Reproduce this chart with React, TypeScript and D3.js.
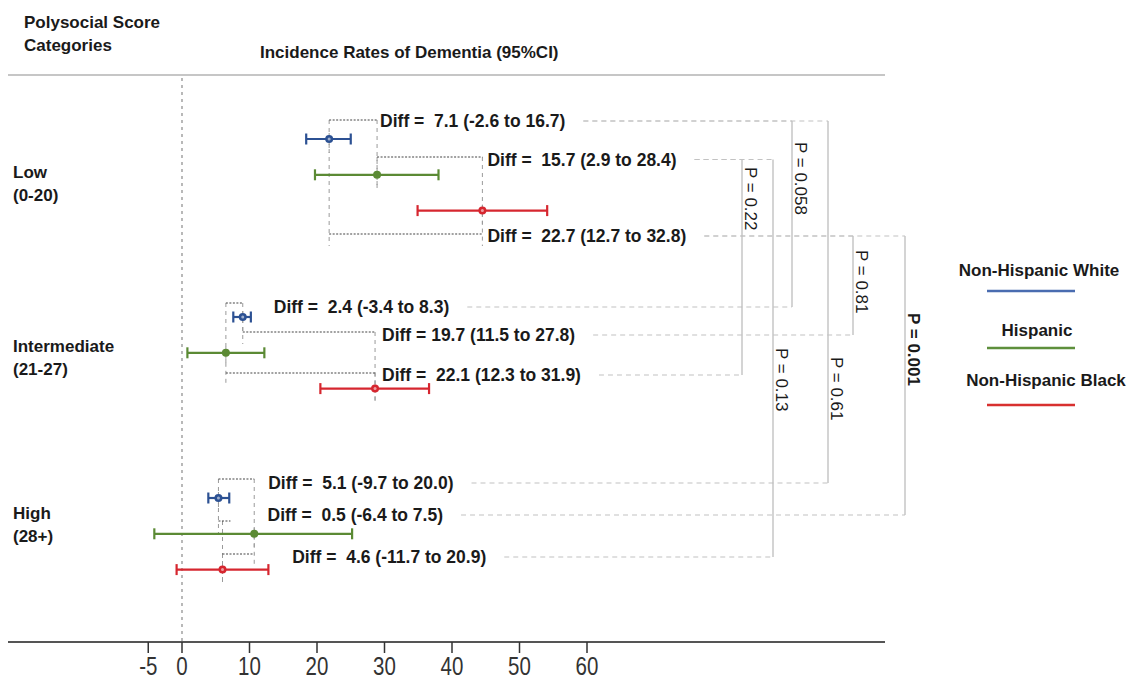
import React, { useEffect, useRef } from "react";
import * as d3 from "d3";

// ---------- data ----------
const groups = ["Low", "Intermediate", "High"];
const groupRanges = ["(0-20)", "(21-27)", "(28+)"];
const races = ["Non-Hispanic White", "Hispanic", "Non-Hispanic Black"];
const estimate = [
  [21.8, 28.9, 44.5],
  [9.0, 6.5, 28.6],
  [5.4, 10.7, 6.0],
];
const ciLower = [
  [18.4, 19.7, 34.9],
  [7.6, 0.8, 20.5],
  [3.9, -4.1, -0.8],
];
const ciUpper = [
  [25.0, 38.0, 54.1],
  [10.2, 12.2, 36.6],
  [7.0, 25.2, 12.8],
];
// differences (group, race A, race B, label)
const diffGroup = [0, 0, 0, 1, 1, 1, 2, 2, 2];
const diffFrom = [0, 1, 0, 0, 0, 1, 0, 0, 2];
const diffTo = [1, 2, 2, 1, 2, 2, 1, 2, 1];
const diffText = [
  "Diff =  7.1 (-2.6 to 16.7)",
  "Diff =  15.7 (2.9 to 28.4)",
  "Diff =  22.7 (12.7 to 32.8)",
  "Diff =  2.4 (-3.4 to 8.3)",
  "Diff = 19.7 (11.5 to 27.8)",
  "Diff =  22.1 (12.3 to 31.9)",
  "Diff =  5.1 (-9.7 to 20.0)",
  "Diff =  0.5 (-6.4 to 7.5)",
  "Diff =  4.6 (-11.7 to 20.9)",
];
// p-value comparisons between differences
const pFrom = [0, 0, 1, 1, 2, 2];
const pTo = [3, 6, 5, 8, 4, 7];
const pText = ["P = 0.058", "P = 0.61", "P = 0.22", "P = 0.13", "P = 0.81", "P = 0.001"];
const pBold = [false, false, false, false, false, true];
const xTicks = [-5, 0, 10, 20, 30, 40, 50, 60];

// ---------- layout / style ----------
const W = 1131;
const H = 681;
const FONT = "'Liberation Sans', Arial, Helvetica, sans-serif";
const raceColors = ["#2c5193", "#5b8a34", "#d6262f"];
const legendColors = ["#4a6cb0", "#5e8f3c", "#d8302f"];
const groupTopY = [139, 317, 498];
const rowStep = 35.8;
const groupLabelY = [178, 352, 519];
const bracketY = [120, 157, 234, 303, 332, 373, 479, 521, 554];
const diffLabelY = [121, 159.5, 236, 307, 335, 375, 483, 515, 557];
const diffLabelDx = [3, 5, 5, 31, 7, 7, 14, 45, 38];
const pBracketX = [792, 828, 742, 773, 853, 905];
const pLabelY = [142, 357, 167, 348, 250, 313];
const legendTextX = [1039, 1037, 1046];
const legendTextY = [276, 336, 386];
const legendLineY = [291, 348, 405];

export default function App() {
  const ref = useRef<SVGSVGElement | null>(null);

  useEffect(() => {
    const svg = d3.select(ref.current);
    svg.selectAll("*").remove();

    const x = d3.scaleLinear().domain([0, 60]).range([182, 587]);
    const rowY = (g: number, r: number) => groupTopY[g] + r * rowStep;

    const gBack = svg.append("g");
    const gMid = svg.append("g");
    const gFront = svg.append("g");

    // header
    svg.append("line").attr("x1", 8).attr("x2", 885).attr("y1", 75).attr("y2", 75)
      .attr("stroke", "#c6c6c6").attr("stroke-width", 2);
    const head = svg.append("g").attr("font-family", FONT).attr("font-weight", "bold")
      .attr("font-size", 17).attr("fill", "#1a1a1a");
    head.append("text").attr("x", 24).attr("y", 28).text("Polysocial Score");
    head.append("text").attr("x", 24).attr("y", 51).text("Categories");
    head.append("text").attr("x", 260).attr("y", 58).text("Incidence Rates of Dementia (95%CI)");

    // group labels
    groups.forEach((gname, i) => {
      head.append("text").attr("x", 13).attr("y", groupLabelY[i]).text(gname);
      head.append("text").attr("x", 13).attr("y", groupLabelY[i] + 23).text(groupRanges[i]);
    });

    // zero reference line
    gBack.append("line").attr("x1", x(0)).attr("x2", x(0)).attr("y1", 78).attr("y2", 642)
      .attr("stroke", "#8a8a8a").attr("stroke-width", 1.2).attr("stroke-dasharray", "3,4");

    // axis
    svg.append("line").attr("x1", 8).attr("x2", 885).attr("y1", 642).attr("y2", 642)
      .attr("stroke", "#555").attr("stroke-width", 2);
    xTicks.forEach((t) => {
      svg.append("line").attr("x1", x(t)).attr("x2", x(t)).attr("y1", 642).attr("y2", 653)
        .attr("stroke", "#333").attr("stroke-width", 1.5);
      svg.append("text")
        .attr("transform", `translate(${x(t)},675) scale(0.82,1)`)
        .attr("text-anchor", "middle").attr("font-family", FONT).attr("font-size", 25)
        .attr("fill", "#333").text(String(t));
    });

    // diff brackets
    const leaderStart: number[] = [];
    diffText.forEach((txt, i) => {
      const g = diffGroup[i];
      const a = diffFrom[i];
      const b = diffTo[i];
      const xa = x(estimate[g][a]);
      const xb = x(estimate[g][b]);
      const by = bracketY[i];
      const x1 = Math.min(xa, xb);
      let x2 = Math.max(xa, xb);
      if (x2 - x1 < 12) x2 = x1 + 12;
      gMid.append("line").attr("x1", x1).attr("x2", x2).attr("y1", by).attr("y2", by)
        .attr("stroke", "#444").attr("stroke-width", 1.2).attr("stroke-dasharray", "2,1.5");
      [[xa, rowY(g, a)], [xb, rowY(g, b)]].forEach(([px, py]) => {
        let y1: number;
        let y2: number;
        if (py > by) { y1 = by; y2 = py + 14; }
        else { y1 = py - 6; y2 = by + 12; }
        gBack.append("line").attr("x1", px).attr("x2", px).attr("y1", y1).attr("y2", y2)
          .attr("stroke", "#9a9a9a").attr("stroke-width", 1).attr("stroke-dasharray", "4,4");
      });
      const tx = Math.max(xa, xb) + diffLabelDx[i];
      const t = gFront.append("text").attr("x", tx).attr("y", diffLabelY[i] + 6)
        .attr("font-family", FONT).attr("font-weight", "bold").attr("font-size", 17.5)
        .attr("fill", "#1a1a1a").style("white-space", "pre").text(txt);
      const node = t.node() as SVGTextElement;
      const w = node ? node.getComputedTextLength() : 180;
      leaderStart[i] = tx + w + 18;
    });

    // p-value brackets
    pText.forEach((pt, k) => {
      const bx = pBracketX[k];
      const ya = diffLabelY[pFrom[k]];
      const yb = diffLabelY[pTo[k]];
      gBack.append("line").attr("x1", bx).attr("x2", bx).attr("y1", ya).attr("y2", yb)
        .attr("stroke", "#bdbdbd").attr("stroke-width", 1.3);
      [pFrom[k], pTo[k]].forEach((d) => {
        gBack.append("line").attr("x1", leaderStart[d]).attr("x2", bx)
          .attr("y1", diffLabelY[d]).attr("y2", diffLabelY[d])
          .attr("stroke", "#c2c2c2").attr("stroke-width", 1.2).attr("stroke-dasharray", "5,4");
      });
      gFront.append("text")
        .attr("transform", `translate(${bx + 3},${pLabelY[k]}) rotate(90)`)
        .attr("font-family", FONT).attr("font-size", 17)
        .attr("font-weight", pBold[k] ? "bold" : "normal")
        .attr("fill", "#1a1a1a").text(pt);
    });

    // error bars
    groups.forEach((_, g) => {
      races.forEach((__, r) => {
        const y = rowY(g, r);
        const c = raceColors[r];
        const lo = x(ciLower[g][r]);
        const hi = x(ciUpper[g][r]);
        gFront.append("line").attr("x1", lo).attr("x2", hi).attr("y1", y).attr("y2", y)
          .attr("stroke", c).attr("stroke-width", 2.2);
        [lo, hi].forEach((cx) => {
          gFront.append("line").attr("x1", cx).attr("x2", cx).attr("y1", y - 5.5).attr("y2", y + 5.5)
            .attr("stroke", c).attr("stroke-width", 2.2);
        });
        gFront.append("circle").attr("cx", x(estimate[g][r])).attr("cy", y).attr("r", 4)
          .attr("fill", c);
        if (r !== 1) {
          gFront.append("circle").attr("cx", x(estimate[g][r])).attr("cy", y).attr("r", 1.5)
            .attr("fill", "#fff").attr("opacity", 0.55);
        }
      });
    });

    // legend
    races.forEach((rn, r) => {
      svg.append("text").attr("x", legendTextX[r]).attr("y", legendTextY[r])
        .attr("text-anchor", "middle").attr("font-family", FONT).attr("font-weight", "bold")
        .attr("font-size", 17).attr("fill", "#1a1a1a").text(rn);
      svg.append("line").attr("x1", 987).attr("x2", 1075).attr("y1", legendLineY[r]).attr("y2", legendLineY[r])
        .attr("stroke", legendColors[r]).attr("stroke-width", 2.5);
    });
  }, []);

  return (
    <div style={{ position: "absolute", left: 0, top: 0, width: W, height: H, background: "#fff" }}>
      <svg ref={ref} width={W} height={H} style={{ display: "block" }} />
    </div>
  );
}
